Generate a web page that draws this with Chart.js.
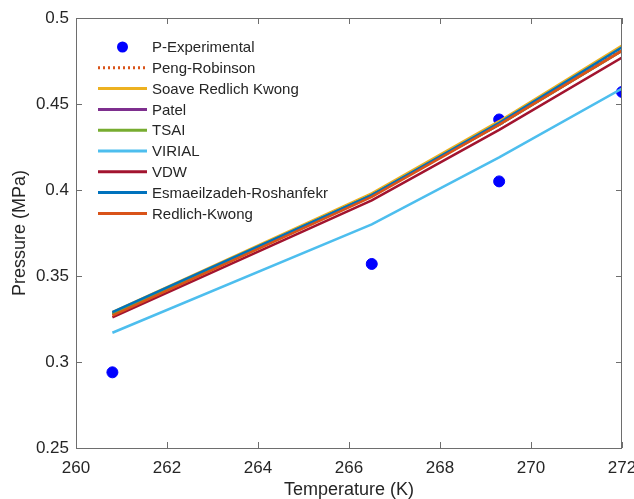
<!DOCTYPE html>
<html>
<head>
<meta charset="utf-8">
<script src="https://cdn.jsdelivr.net/npm/chart.js@4/dist/chart.umd.min.js"></script>
<style>
  html, body { margin: 0; padding: 0; background: #fff; }
  #wrap { width: 634px; height: 499px; }
</style>
</head>
<body>
<div id="wrap"><canvas id="chart" width="634" height="499"></canvas></div>
<script>
const temps = [260.8, 266.5, 269.3, 272];
const expTemps = [260.8, 266.5, 269.3, 269.3, 272];
const expPressure = [0.294, 0.357, 0.441, 0.405, 0.457];

const pengRobinson = [0.328, 0.397, 0.439, 0.482];
const soave = [0.329, 0.398, 0.440, 0.484];
const patel = [0.328, 0.397, 0.438, 0.481];
const tsai = [0.328, 0.397, 0.438, 0.481];
const virial = [0.317, 0.380, 0.419, 0.459];
const vdw = [0.326, 0.394, 0.435, 0.477];
const esmaeilzadeh = [0.329, 0.397, 0.439, 0.483];
const redlichKwong = [0.327, 0.396, 0.438, 0.481];

const xTicks = [260, 262, 264, 266, 268, 270, 272];
const yTicks = [0.25, 0.3, 0.35, 0.4, 0.45, 0.5];

const TEXT = '#262626';
const FRAME = '#6e6e6e';
const FONT = '"Liberation Sans", Arial, sans-serif';

function pts(xs, ys) { return xs.map((x, i) => ({ x, y: ys[i] })); }

const lineSeries = [
  { label: 'Peng-Robinson', data: pengRobinson, color: '#D95319', dash: [2, 3] },
  { label: 'Soave Redlich Kwong', data: soave, color: '#EDB120' },
  { label: 'Patel', data: patel, color: '#7E2F8E' },
  { label: 'TSAI', data: tsai, color: '#77AC30' },
  { label: 'VIRIAL', data: virial, color: '#4DBEEE' },
  { label: 'VDW', data: vdw, color: '#A2142F' },
  { label: 'Esmaeilzadeh-Roshanfekr', data: esmaeilzadeh, color: '#0072BD' },
  { label: 'Redlich-Kwong', data: redlichKwong, color: '#D95319' }
];

const datasets = [{
  type: 'scatter',
  label: 'P-Experimental',
  data: pts(expTemps, expPressure),
  backgroundColor: '#0000FF',
  borderColor: '#0000FF',
  pointRadius: 5.5,
  order: 20
}];
lineSeries.forEach((s, i) => {
  datasets.push({
    type: 'line',
    label: s.label,
    data: pts(temps, s.data),
    borderColor: s.color,
    backgroundColor: s.color,
    borderWidth: 2.5,
    borderDash: s.dash || [],
    pointRadius: 0,
    tension: 0,
    fill: false,
    order: 10 - i
  });
});

// box, inward ticks and legend, MATLAB style
const frame = {
  id: 'frame',
  afterDraw(chart) {
    const { ctx, chartArea: a, scales } = chart;
    ctx.save();
    ctx.strokeStyle = FRAME;
    ctx.lineWidth = 1;
    ctx.strokeRect(a.left + 0.5, a.top + 0.5, a.right - a.left - 1, a.bottom - a.top);
    ctx.beginPath();
    xTicks.forEach(v => {
      const x = Math.round(scales.x.getPixelForValue(v)) + 0.5;
      ctx.moveTo(x, a.bottom); ctx.lineTo(x, a.bottom - 6);
      ctx.moveTo(x, a.top); ctx.lineTo(x, a.top + 6);
    });
    yTicks.forEach(v => {
      const y = Math.round(scales.y.getPixelForValue(v)) + 0.5;
      ctx.moveTo(a.left, y); ctx.lineTo(a.left + 6, y);
      ctx.moveTo(a.right, y); ctx.lineTo(a.right - 6, y);
    });
    ctx.stroke();

    // legend
    ctx.font = '15px ' + FONT;
    ctx.textBaseline = 'middle';
    const x0 = 98, x1 = 147, tx = 152, y0 = 47, dy = 20.8;
    chart.data.datasets.forEach((d, i) => {
      const y = y0 + i * dy;
      if (d.type === 'scatter') {
        ctx.fillStyle = d.backgroundColor;
        ctx.beginPath();
        ctx.arc((x0 + x1) / 2, y, 5.5, 0, Math.PI * 2);
        ctx.fill();
      } else {
        ctx.strokeStyle = d.borderColor;
        ctx.lineWidth = 3;
        ctx.setLineDash(d.borderDash || []);
        ctx.beginPath();
        ctx.moveTo(x0, y); ctx.lineTo(x1, y);
        ctx.stroke();
        ctx.setLineDash([]);
      }
      ctx.fillStyle = TEXT;
      ctx.fillText(d.label, tx, y + 1);
    });
    ctx.restore();
  }
};

new Chart(document.getElementById('chart'), {
  type: 'scatter',
  data: { datasets },
  plugins: [frame],
  options: {
    responsive: false,
    animation: false,
    layout: { padding: { top: 18, right: 12, left: 9, bottom: 0 } },
    plugins: { legend: { display: false }, tooltip: { enabled: false } },
    scales: {
      x: {
        type: 'linear',
        min: 260, max: 272,
        afterBuildTicks: s => { s.ticks = xTicks.map(v => ({ value: v })); },
        afterFit: s => { s.height = 51; s.paddingLeft = 0; s.paddingRight = 0; },
        grid: { display: false },
        border: { display: false },
        ticks: { color: TEXT, font: { family: FONT, size: 17 }, padding: 2, maxRotation: 0 },
        title: { display: true, text: 'Temperature (K)', color: TEXT, font: { family: FONT, size: 18 }, padding: { top: 0, bottom: -2 } }
      },
      y: {
        type: 'linear',
        min: 0.25, max: 0.5,
        afterBuildTicks: s => { s.ticks = yTicks.map(v => ({ value: v })); },
        afterFit: s => { s.width = 67; s.paddingTop = 0; s.paddingBottom = 0; },
        grid: { display: false, drawTicks: false },
        border: { display: false },
        ticks: { color: TEXT, font: { family: FONT, size: 17 }, padding: 7, callback: v => String(+v.toFixed(2)) },
        title: { display: true, text: 'Pressure (MPa)', color: TEXT, font: { family: FONT, size: 18 }, padding: { top: 0, bottom: 4 } }
      }
    }
  }
});
</script>
</body>
</html>
